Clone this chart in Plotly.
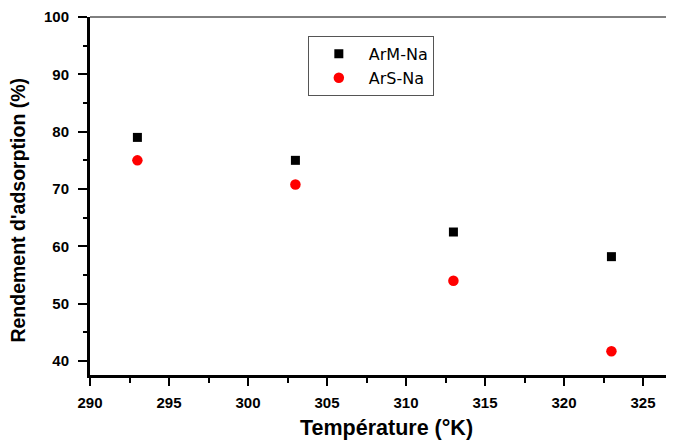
import plotly.graph_objects as go

temperature = [293, 303, 313, 323]
arm_na = [79.0, 75.0, 62.5, 58.2]
ars_na = [75.0, 70.8, 54.0, 41.7]
x_ticks = [290, 295, 300, 305, 310, 315, 320, 325]
y_ticks = [40, 50, 60, 70, 80, 90, 100]

fig = go.Figure()
fig.add_trace(go.Scatter(x=temperature, y=arm_na, mode="markers", name="ArM-Na",
                         marker=dict(symbol="square", size=9, color="black")))
fig.add_trace(go.Scatter(x=temperature, y=ars_na, mode="markers", name="ArS-Na",
                         marker=dict(symbol="circle", size=10.5, color="#ff0000")))

tickfont = dict(family="Liberation Sans, Arial", size=15, color="black", weight="bold")

# The page body has an 8px margin, so the figure is 8px smaller than the window.
fig.update_layout(
    width=666, height=432,
    margin=dict(l=82, r=0, t=9, b=65, autoexpand=False),
    plot_bgcolor="white", paper_bgcolor="white",
    showlegend=True,
    legend=dict(x=0.373, y=0.947, xanchor="left", yanchor="top",
                bordercolor="#555555", borderwidth=1, bgcolor="white",
                font=dict(family="DejaVu Sans", size=16, color="black"),
                itemwidth=50, tracegroupgap=0),
    xaxis=dict(range=[290, 326.96], tickvals=x_ticks, ticks="outside", ticklen=8, tickwidth=2,
               tickcolor="black", showline=True, linewidth=3, linecolor="black",
               showgrid=False, zeroline=False, tickfont=tickfont, automargin=False,
               ticklabelstandoff=4,
               minor=dict(dtick=2.5, tick0=290, ticks="outside", ticklen=5, tickwidth=2, tickcolor="black")),
    yaxis=dict(range=[37.56, 100], tickvals=y_ticks, ticks="outside", ticklen=9, tickwidth=2,
               tickcolor="black", showline=True, linewidth=3, linecolor="black",
               showgrid=False, zeroline=False, tickfont=tickfont, automargin=False,
               ticklabelstandoff=6,
               minor=dict(dtick=5, tick0=35, ticks="outside", ticklen=4, tickwidth=2, tickcolor="black")),
)
fig.add_shape(type="line", xref="paper", yref="paper", x0=0, x1=1, y0=1, y1=1,
              line=dict(color="black", width=1))
fig.add_annotation(text="Température (°K)", xref="paper", yref="paper",
                   x=0.507, y=-0.148, xanchor="center", yanchor="middle", showarrow=False,
                   font=dict(family="Liberation Sans, Arial", size=21.5, color="black", weight="bold"))
fig.add_annotation(text="Rendement d'adsorption (%)", xref="paper", yref="paper",
                   x=-0.1233, y=0.462, xanchor="center", yanchor="middle", showarrow=False,
                   textangle=-90,
                   font=dict(family="Liberation Sans, Arial", size=19.5, color="black", weight="bold"))

fig.write_html("out.html")
